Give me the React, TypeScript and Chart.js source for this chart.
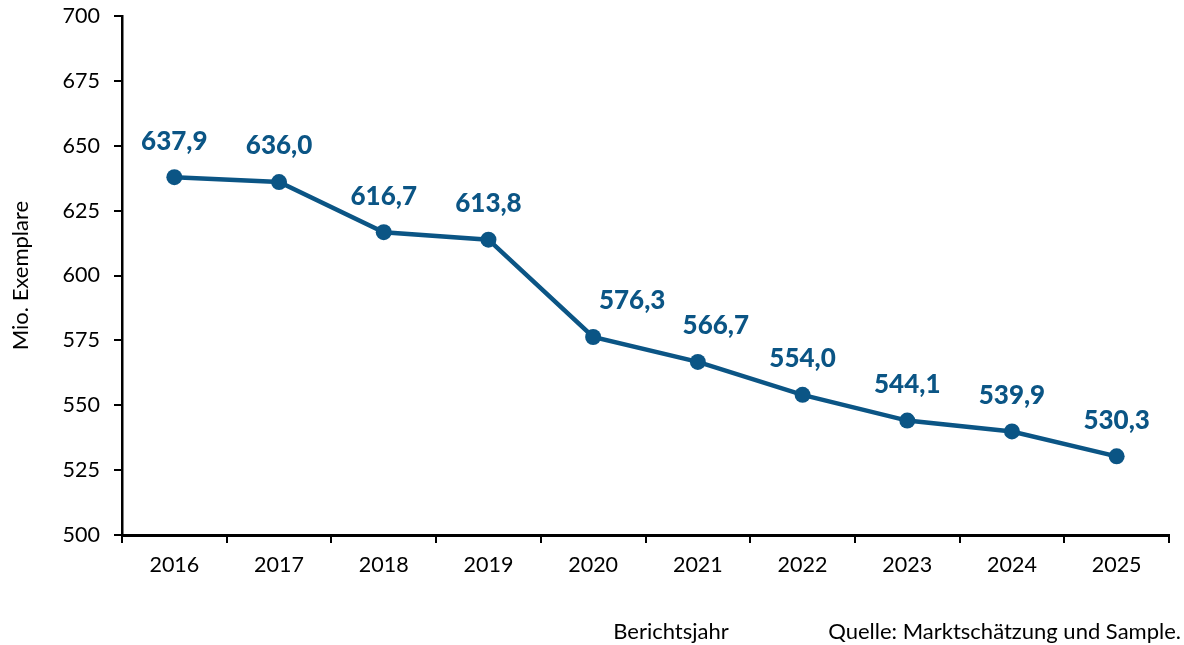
import React, { useEffect, useRef } from "react";
import { Chart, registerables } from "chart.js";

Chart.register(...registerables);

const years = ["2016", "2017", "2018", "2019", "2020", "2021", "2022", "2023", "2024", "2025"];
const copies = [637.9, 636.0, 616.7, 613.8, 576.3, 566.7, 554.0, 544.1, 539.9, 530.3];
const labelShiftX = [0, 0, 0, 0, 39, 18, 0, 0, 0, 0];

const BLUE = "#0b5585";
const FONT = "Lato, 'Open Sans', sans-serif";

const fmt = (v: number) => v.toFixed(1).replace(".", ",");

const textPlugin = {
  id: "texts",
  afterDatasetsDraw(chart: any) {
    const ctx = chart.ctx;
    const meta = chart.getDatasetMeta(0);
    ctx.save();
    ctx.fillStyle = BLUE;
    ctx.font = `900 26px ${FONT}`;
    ctx.textAlign = "center";
    ctx.textBaseline = "middle";
    meta.data.forEach((pt: any, i: number) => {
      ctx.fillText(fmt(copies[i]), pt.x + labelShiftX[i], pt.y - 36);
    });
    ctx.restore();
  },
  afterDraw(chart: any) {
    const ctx = chart.ctx;
    const area = chart.chartArea;
    ctx.save();
    ctx.fillStyle = "#000";
    ctx.font = `22px ${FONT}`;
    ctx.textBaseline = "middle";
    ctx.textAlign = "center";
    ctx.fillText("Berichtsjahr", 671, 632);
    ctx.textAlign = "right";
    ctx.fillText("Quelle: Marktschätzung und Sample.", 1181, 632);
    ctx.translate(21, (area.top + area.bottom) / 2);
    ctx.rotate(-Math.PI / 2);
    ctx.textAlign = "center";
    ctx.fillText("Mio. Exemplare", 0, 0);
    ctx.restore();
  },
};

export default function App() {
  const ref = useRef<HTMLCanvasElement>(null);
  useEffect(() => {
    const chart = new Chart(ref.current!, {
      type: "line",
      data: {
        labels: years,
        datasets: [
          {
            data: copies,
            borderColor: BLUE,
            backgroundColor: BLUE,
            borderWidth: 4.5,
            pointRadius: 8,
            pointBackgroundColor: BLUE,
            pointBorderColor: BLUE,
            pointBorderWidth: 0,
            tension: 0,
          },
        ],
      },
      options: {
        animation: false,
        responsive: false,
        maintainAspectRatio: false,
        layout: { padding: { top: 16, right: 15, left: 0, bottom: 0 } },
        plugins: { legend: { display: false }, tooltip: { enabled: false } },
        scales: {
          x: {
            offset: true,
            grid: {
              offset: true,
              drawOnChartArea: false,
              drawTicks: true,
              tickLength: 8,
              color: "#000",
              lineWidth: 2,
            },
            border: { display: true, color: "#000", width: 3 },
            ticks: { color: "#000", font: { family: FONT, size: 21.5 }, padding: 9 },
            afterFit: (s: any) => {
              s.height = 110;
              s.paddingLeft = 0;
              s.paddingRight = 0;
            },
          },
          y: {
            min: 500,
            max: 700,
            ticks: { stepSize: 25, color: "#000", font: { family: FONT, size: 21.5 }, padding: 14 },
            grid: {
              drawOnChartArea: false,
              drawTicks: true,
              tickLength: 8,
              color: "#000",
              lineWidth: 2,
            },
            border: { display: true, color: "#000", width: 2.5 },
            afterFit: (s: any) => {
              s.width = 122;
              s.paddingTop = 0;
              s.paddingBottom = 0;
            },
          },
        },
      },
      plugins: [textPlugin],
    });
    return () => chart.destroy();
  }, []);
  return (
    <div style={{ position: "fixed", left: 0, top: 0, width: 1184, height: 645, background: "#fff" }}>
      <canvas ref={ref} width={1184} height={645} style={{ width: 1184, height: 645 }} />
    </div>
  );
}
